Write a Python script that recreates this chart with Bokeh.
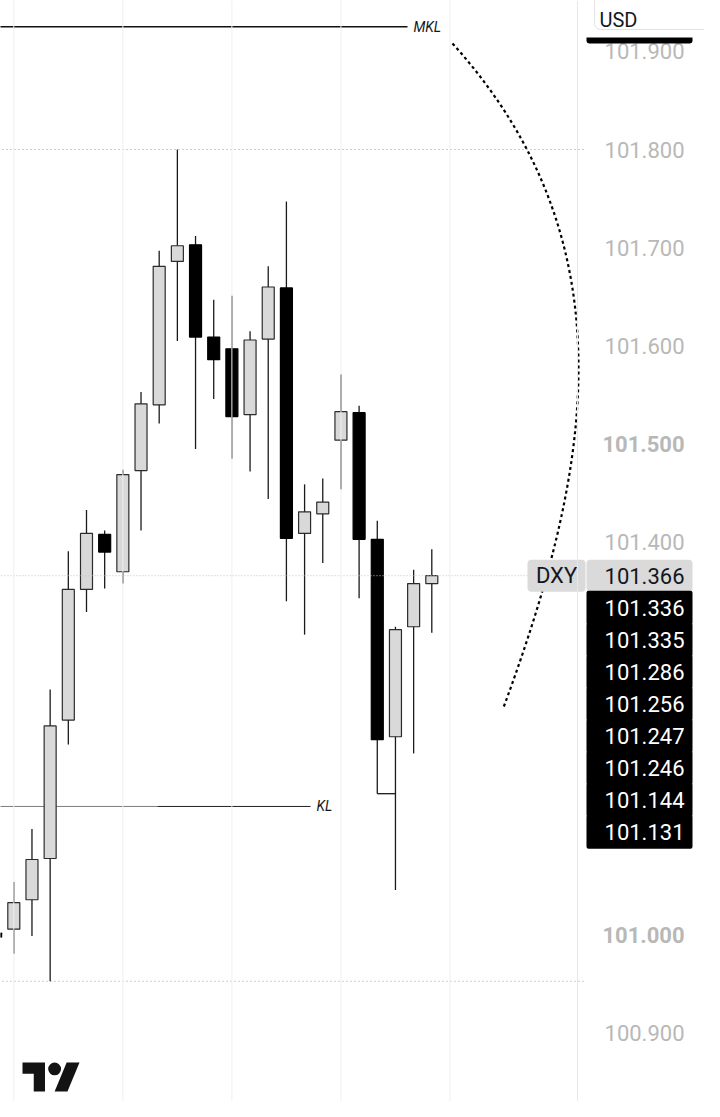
from bokeh.plotting import figure
from bokeh.models import Range1d, Span
from bokeh.core.properties import value
from bokeh.embed import file_html
from bokeh.resources import INLINE

# ---------------- data ----------------
bar_idx = list(range(-1, 24))
opens  = [101.002, 101.006, 101.036, 101.078, 101.219, 101.352, 101.408, 101.370, 101.473, 101.540,
          101.686, 101.703, 101.609, 101.597, 101.530, 101.607, 101.659, 101.409, 101.429, 101.504,
          101.532, 101.403, 101.202, 101.314, 101.358]
highs  = [101.030, 101.054, 101.108, 101.250, 101.391, 101.433, 101.412, 101.474, 101.553, 101.697,
          101.800, 101.712, 101.647, 101.651, 101.615, 101.681, 101.747, 101.459, 101.465, 101.571,
          101.539, 101.422, 101.314, 101.372, 101.393]
lows   = [100.970, 100.981, 100.999, 100.953, 101.194, 101.329, 101.353, 101.358, 101.412, 101.521,
          101.605, 101.495, 101.546, 101.485, 101.472, 101.444, 101.340, 101.306, 101.379, 101.454,
          101.343, 101.144, 101.046, 101.185, 101.308]
closes = [100.998, 101.033, 101.077, 101.213, 101.352, 101.409, 101.390, 101.469, 101.541, 101.681,
          101.702, 101.609, 101.586, 101.528, 101.606, 101.660, 101.404, 101.431, 101.441, 101.533,
          101.403, 101.199, 101.311, 101.358, 101.366]

axis_ticks = [100.9, 101.0, 101.1, 101.2, 101.3, 101.4, 101.5, 101.6, 101.7, 101.8, 101.9]
bold_ticks = [101.0, 101.5]
grid_bars = [0, 6, 12, 18, 24]

symbol = "DXY"
currency = "USD"
stack_labels = [101.336, 101.335, 101.286, 101.256, 101.247, 101.246, 101.144, 101.131]
mkl_level = 101.925
kl_level = 101.131

# ------------- pixel <-> data mapping -------------
X0_PX, BAR_PX = 13.3, 18.174
Y_REF_PX, Y_REF, PX_PER_UNIT = 149.0, 101.8, 982.0
W, H = 704, 1101

def px2x(px):
    return (px - X0_PX) / BAR_PX

def py2y(py):
    return Y_REF - (py - Y_REF_PX) / PX_PER_UNIT

def dpx(n):
    return n / PX_PER_UNIT

FONT = value("Roboto")

p = figure(width=W, height=H, output_backend="svg", toolbar_location=None,
           x_range=Range1d(px2x(0), px2x(W)), y_range=Range1d(py2y(H), py2y(0)),
           x_axis_location=None, y_axis_location=None, min_border=0)
p.grid.visible = False
p.outline_line_color = None
p.background_fill_color = "white"
p.border_fill_color = "white"

# vertical grid lines + pane separator
for g in grid_bars:
    p.add_layout(Span(location=g, dimension="height", line_color="#efefef", line_width=1))
p.add_layout(Span(location=px2x(577), dimension="height", line_color="#e8e8e8", line_width=1))

x_left = px2x(-2)
x_pane_end = px2x(584)

# high / low dotted rays
hi, lo = max(highs), min(lows)
p.segment(x0=[x_left, x_left], y0=[hi, lo], x1=[x_pane_end, x_pane_end], y1=[hi, lo],
          line_color="#9a9a9a", line_width=1, line_dash="1 3")

# KL line (behind candles)
p.segment(x0=[x_left], y0=[kl_level], x1=[px2x(157)], y1=[kl_level], line_color="#7d7d7d", line_width=1)
p.segment(x0=[px2x(157)], y0=[kl_level], x1=[px2x(310)], y1=[kl_level], line_color="#222222", line_width=1)
p.text(x=[px2x(316)], y=[kl_level], text=["KL"], text_font=FONT, text_font_size="14px",
       text_font_style="italic", text_color="#131722", text_baseline="middle", text_align="left")

# MKL line
p.segment(x0=[x_left], y0=[mkl_level], x1=[px2x(407)], y1=[mkl_level], line_color="#111111", line_width=1.3)
p.text(x=[px2x(413)], y=[mkl_level], text=["MKL"], text_font=FONT, text_font_size="14px",
       text_font_style="italic", text_color="#131722", text_baseline="middle", text_align="left")

# candles
up = [i for i in range(len(bar_idx)) if closes[i] >= opens[i]]
dn = [i for i in range(len(bar_idx)) if closes[i] < opens[i]]
p.segment(x0=bar_idx, y0=highs, x1=bar_idx, y1=lows, line_color="#1a1a1a", line_width=1.3)
# bracket from bar 20's low to bar 21
p.segment(x0=[bar_idx[21]], y0=[lows[21]], x1=[bar_idx[22]], y1=[lows[21]], line_color="#1a1a1a", line_width=1.3)
bw = 12 / BAR_PX
p.vbar(x=[bar_idx[i] for i in up], width=bw, top=[closes[i] for i in up], bottom=[opens[i] for i in up],
       fill_color="#d9d9d9", line_color="#2b2b2b", line_width=1.2)
p.vbar(x=[bar_idx[i] for i in dn], width=bw, top=[opens[i] for i in dn], bottom=[closes[i] for i in dn],
       fill_color="#000000", line_color="#000000", line_width=1.2)

# current price dotted line
last = closes[-1]
p.segment(x0=[x_left], y0=[last], x1=[px2x(586)], y1=[last], line_color="#c4c4c4", line_width=1, line_dash="1 2")

# dotted arc drawing
p.bezier(x0=[px2x(452)], y0=[py2y(43)], x1=[px2x(503)], y1=[py2y(707)],
         cx0=[px2x(637)], cy0=[py2y(248)], cx1=[px2x(586)], cy1=[py2y(482)],
         line_color="#000000", line_width=2.2, line_dash="3 3")

# price axis labels
xr = px2x(684)
norm = [t for t in axis_ticks if t not in bold_ticks]
p.text(x=[xr] * len(norm), y=norm, text=[f"{t:.3f}" for t in norm], text_font=FONT, text_font_size="22px",
       text_color="#b8b8b8", text_align="right", text_baseline="middle")
p.text(x=[xr] * len(bold_ticks), y=bold_ticks, text=[f"{t:.3f}" for t in bold_ticks], text_font=FONT,
       text_font_size="22px", text_font_style="bold", text_color="#b8b8b8", text_align="right",
       text_baseline="middle")

# symbol + last price labels
h = dpx(16)
p.quad(left=[px2x(527)], right=[px2x(585)], top=[last + h], bottom=[last - h],
       fill_color="#dadada", line_color=None, border_radius=4)
p.text(x=[px2x(556)], y=[last], text=[symbol], text_font=FONT, text_font_size="22px",
       text_color="#131722", text_align="center", text_baseline="middle")
p.quad(left=[px2x(586)], right=[px2x(692)], top=[last + h], bottom=[last - h],
       fill_color="#dadada", line_color=None, border_radius=4)
p.text(x=[xr], y=[last], text=[f"{last:.3f}"], text_font=FONT, text_font_size="22px",
       text_color="#131722", text_align="right", text_baseline="middle")

# stacked drawing labels (touching boxes)
centers = [last - (k + 1) * dpx(32) for k in range(len(stack_labels))]
p.quad(left=[px2x(586)] * len(centers), right=[px2x(692)] * len(centers),
       top=[c + h + dpx(1) for c in centers], bottom=[c - h - dpx(1) for c in centers],
       fill_color="#000000", line_color=None, border_radius=2)
p.text(x=[xr] * len(centers), y=centers, text=[f"{v:.3f}" for v in stack_labels], text_font=FONT,
       text_font_size="22px", text_color="#ffffff", text_align="right", text_baseline="middle")

# MKL price label (mostly hidden under the currency selector)
p.quad(left=[px2x(586)], right=[px2x(692)], top=[mkl_level + h], bottom=[py2y(43)],
       fill_color="#000000", line_color=None, border_radius=3)
p.quad(left=[px2x(580)], right=[px2x(720)], top=[py2y(-5)], bottom=[py2y(37)],
       fill_color="#ffffff", line_color=None)
# currency selector
p.quad(left=[px2x(594)], right=[px2x(712)], top=[py2y(-10)], bottom=[py2y(29)],
       fill_color="#ffffff", line_color="#e2e2e2", line_width=1, border_radius=6)
p.text(x=[px2x(599)], y=[py2y(19)], text=[currency], text_font=FONT, text_font_size="20px",
       text_color="#131722", text_align="left", text_baseline="alphabetic")

# TradingView logo
s = 57 / 35.5
lx0, ly0 = 22.0, 1062 - 4 * s
def lx(u):
    return px2x(lx0 + u * s)
def ly(v):
    return py2y(ly0 + v * s)
p.patch(x=[lx(u) for u in (14, 7, 7, 0, 0, 14)], y=[ly(v) for v in (22, 22, 11, 11, 4, 4)],
        fill_color="#131313", line_color=None)
p.patch(x=[lx(u) for u in (28, 20, 27.5, 35.5)], y=[ly(v) for v in (22, 22, 4, 4)],
        fill_color="#131313", line_color=None)
p.scatter(x=[lx(20)], y=[ly(8)], size=8 * s, marker="circle", fill_color="#131313", line_color=None)

open("out.html", "w").write(file_html(p, INLINE))
